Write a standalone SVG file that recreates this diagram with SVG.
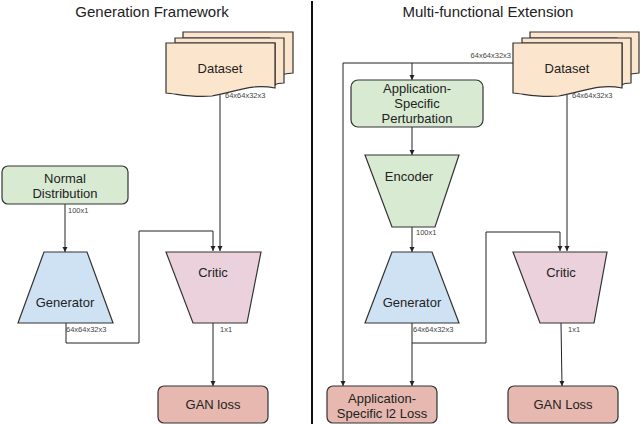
<svg xmlns="http://www.w3.org/2000/svg" width="640" height="425" viewBox="0 0 640 425">
<defs>
<marker id="arr" markerUnits="userSpaceOnUse" markerWidth="6" markerHeight="6" refX="5" refY="3" orient="auto">
<path d="M0,0.5 L5,3 L0,5.5 Z" fill="#222"/>
</marker>
<style>
.t{font-family:"Liberation Sans",Arial,sans-serif;fill:#222;text-anchor:middle}
.title{font-size:15px}
.n{font-size:13px}
.lbl{font-family:"Liberation Sans",Arial,sans-serif;font-size:7.5px;fill:#444}
.s{stroke:#333;stroke-width:1.2}
.c{fill:none;stroke:#222;stroke-width:1}
.ca{fill:none;stroke:#222;stroke-width:1;marker-end:url(#arr)}
.green{fill:#d9ead3}
.peach{fill:#fce5cd}
.blue{fill:#cfe2f3}
.pink{fill:#ead1dc}
.red{fill:#e6b8af}
</style>
</defs>
<rect width="640" height="425" fill="#fff"/>

<text class="t title" x="152" y="17">Generation Framework</text>
<text class="t title" x="488" y="17">Multi-functional Extension</text>
<line x1="312" y1="1" x2="312" y2="424" stroke="#111" stroke-width="2"/>

<g id="connectors">
<!-- left -->
<line class="ca" x1="220" y1="95" x2="220" y2="251"/>
<line class="ca" x1="65" y1="204" x2="65" y2="252"/>
<polyline class="ca" points="66,323 66,343 139,343 139,231 213,231 213,251"/>
<line class="ca" x1="213" y1="323" x2="213" y2="386"/>
<!-- right -->
<polyline class="c" points="513,63 343,63"/>
<line class="ca" x1="343" y1="63" x2="343" y2="386"/>
<line class="ca" x1="412" y1="63" x2="412" y2="80"/>
<line class="ca" x1="412" y1="127" x2="412" y2="155"/>
<line class="ca" x1="412" y1="227" x2="412" y2="252"/>
<line class="ca" x1="412" y1="323" x2="412" y2="386"/>
<polyline class="ca" points="412,343 486,343 486,232 560,232 560,251"/>
<line class="ca" x1="567" y1="95" x2="567" y2="251"/>
<line class="ca" x1="561" y1="323" x2="562" y2="386"/>
</g>

<g id="labels">
<text class="lbl" x="225" y="98">64x64x32x3</text>
<text class="lbl" x="68" y="213">100x1</text>
<text class="lbl" x="66" y="332">64x64x32x3</text>
<text class="lbl" x="220" y="332">1x1</text>
<text class="lbl" x="511" y="58" text-anchor="end">64x64x32x3</text>
<text class="lbl" x="572" y="98">64x64x32x3</text>
<text class="lbl" x="416" y="235">100x1</text>
<text class="lbl" x="413" y="332">64x64x32x3</text>
<text class="lbl" x="568" y="332">1x1</text>
</g>

<g id="dataset-left">
<path class="s peach" d="M183,32 H293 V73 C283,74 275,76 270,78 V38 H183 Z"/>
<path class="s peach" d="M175,38 H284 V83 C279,83 276,84 275,85 V43 H175 Z"/>
<path class="s peach" d="M166,43 H275 V88 C252,83 236,92 212,96 C192,98 178,94 166,93 Z"/>
<text class="t n" x="220" y="73">Dataset</text>
</g>

<g id="normal-distribution">
<rect class="s green" x="2" y="166" width="126" height="38" rx="6"/>
<text class="t n" x="65" y="183">Normal</text>
<text class="t n" x="65" y="198">Distribution</text>
</g>

<g id="generator-left">
<path class="s blue" d="M44,252 H87 L113,323 H18 Z"/>
<text class="t n" x="65" y="307">Generator</text>
</g>

<g id="critic-left">
<path class="s pink" d="M166,252 H261 L247,323 H193 Z"/>
<text class="t n" x="213" y="277">Critic</text>
</g>

<g id="gan-loss-left">
<rect class="s red" x="158" y="386" width="110" height="37" rx="6"/>
<text class="t n" x="213" y="409">GAN loss</text>
</g>

<g id="dataset-right">
<path class="s peach" d="M530,32 H639 V73 C630,74 622,76 617,78 V38 H530 Z"/>
<path class="s peach" d="M522,38 H631 V83 C626,83 623,84 622,85 V43 H522 Z"/>
<path class="s peach" d="M513,43 H622 V88 C599,83 583,92 559,96 C539,98 525,94 513,93 Z"/>
<text class="t n" x="567" y="73">Dataset</text>
</g>

<g id="perturbation">
<rect class="s green" x="351" y="80" width="132" height="47" rx="7"/>
<text class="t n" x="417" y="93">Application-</text>
<text class="t n" x="417" y="108">Specific</text>
<text class="t n" x="417" y="123">Perturbation</text>
</g>

<g id="encoder">
<path class="s green" d="M365,155 H459 L435,227 H392 Z"/>
<text class="t n" x="409" y="181">Encoder</text>
</g>

<g id="generator-right">
<path class="s blue" d="M392,252 H432 L459,323 H365 Z"/>
<text class="t n" x="412" y="307">Generator</text>
</g>

<g id="critic-right">
<path class="s pink" d="M513,252 H607 L594,323 H540 Z"/>
<text class="t n" x="561" y="277">Critic</text>
</g>

<g id="l2-loss">
<rect class="s red" x="327" y="386" width="110" height="37" rx="6"/>
<text class="t n" x="382" y="403">Application-</text>
<text class="t n" x="382" y="418">Specific l2 Loss</text>
</g>

<g id="gan-loss-right">
<rect class="s red" x="508" y="386" width="110" height="37" rx="6"/>
<text class="t n" x="563" y="409">GAN Loss</text>
</g>
</svg>
